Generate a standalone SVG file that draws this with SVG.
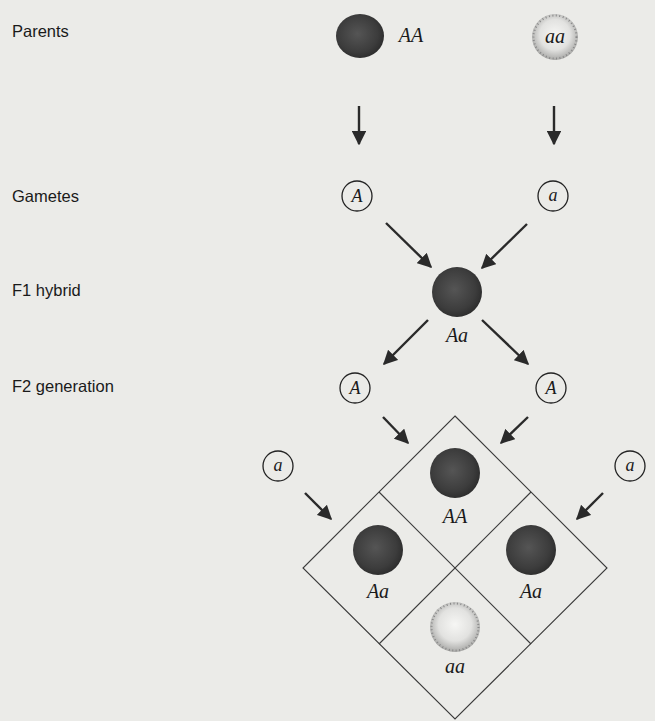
<svg xmlns="http://www.w3.org/2000/svg" width="655" height="721" viewBox="0 0 655 721">
<style>
.lbl{font-family:"Liberation Sans","DejaVu Sans",sans-serif;font-size:16.5px;fill:#1a1a1a}
.gen{font-family:"Liberation Serif","DejaVu Serif",serif;font-style:italic;font-size:20px;fill:#1a1a1a;text-anchor:middle}
.gam{font-family:"Liberation Serif","DejaVu Serif",serif;font-style:italic;font-size:18px;fill:#1a1a1a;text-anchor:middle}
.gc{fill:none;stroke:#222;stroke-width:1.3}
.dark{fill:url(#dk)}
.light{fill:url(#lt)}
.stip{fill:none;stroke:#888;stroke-width:2;stroke-dasharray:1 2.5}
.arr{stroke:#2a2a2a;stroke-width:2.4;fill:none;marker-end:url(#ah)}
.grid{fill:none;stroke:#3a3a3a;stroke-width:1.1}
</style>
<defs>
<radialGradient id="dk" cx="0.45" cy="0.45" r="0.6">
<stop offset="0" stop-color="#555"/><stop offset="0.7" stop-color="#3c3c3c"/><stop offset="1" stop-color="#2a2a2a"/>
</radialGradient>
<radialGradient id="lt" cx="0.5" cy="0.45" r="0.55">
<stop offset="0" stop-color="#f6f6f4"/><stop offset="0.6" stop-color="#e2e2e0"/><stop offset="1" stop-color="#a8a8a6"/>
</radialGradient>
<marker id="ah" viewBox="0 0 10 10" refX="9" refY="5" markerWidth="6" markerHeight="6" orient="auto" markerUnits="strokeWidth">
<path d="M0,0 L10,5 L0,10 z" fill="#2a2a2a"/>
</marker>
</defs>
<rect width="655" height="721" fill="#ebebe8"/>

<g id="labels">
<text class="lbl" x="12" y="37">Parents</text>
<text class="lbl" x="12" y="202">Gametes</text>
<text class="lbl" x="12" y="296">F1 hybrid</text>
<text class="lbl" x="12" y="392">F2 generation</text>
</g>

<g id="parentAA">
<ellipse class="dark" cx="360" cy="36" rx="24" ry="22"/>
<text class="gen" x="411" y="42">AA</text>
</g>
<g id="parentaa">
<circle class="light" cx="555" cy="37" r="23"/>
<circle class="stip" cx="555" cy="37" r="21.5"/>
<text class="gen" x="555" y="43">aa</text>
</g>

<g id="gameteA">
<circle class="gc" cx="357" cy="196" r="15"/>
<text class="gam" x="357" y="202">A</text>
</g>
<g id="gametea">
<circle class="gc" cx="553" cy="196" r="15"/>
<text class="gam" x="553" y="201">a</text>
</g>

<g id="f1">
<circle class="dark" cx="457" cy="292" r="25"/>
<text class="gen" x="457" y="342">Aa</text>
</g>

<g id="f2A1">
<circle class="gc" cx="355" cy="388" r="15"/>
<text class="gam" x="355" y="394">A</text>
</g>
<g id="f2A2">
<circle class="gc" cx="551" cy="388" r="15"/>
<text class="gam" x="551" y="394">A</text>
</g>
<g id="f2a1">
<circle class="gc" cx="278" cy="466" r="15"/>
<text class="gam" x="278" y="471">a</text>
</g>
<g id="f2a2">
<circle class="gc" cx="630" cy="466" r="15"/>
<text class="gam" x="630" y="471">a</text>
</g>

<g id="punnett">
<path class="grid" d="M455,416 L607,568 L455,719 L303,568 Z"/>
<line class="grid" x1="379" y1="492" x2="531" y2="644"/>
<line class="grid" x1="531" y1="492" x2="379" y2="644"/>
</g>
<g id="cellAA">
<circle class="dark" cx="455" cy="473" r="25"/>
<text class="gen" x="455" y="523">AA</text>
</g>
<g id="cellAa1">
<circle class="dark" cx="378" cy="550" r="25"/>
<text class="gen" x="378" y="598">Aa</text>
</g>
<g id="cellAa2">
<circle class="dark" cx="531" cy="550" r="25"/>
<text class="gen" x="531" y="598">Aa</text>
</g>
<g id="cellaa">
<circle class="light" cx="455" cy="627" r="25"/>
<circle class="stip" cx="455" cy="627" r="23.5"/>
<text class="gen" x="455" y="673">aa</text>
</g>

<g id="connectors">
<line class="arr" x1="359" y1="106" x2="359" y2="144"/>
<line class="arr" x1="554" y1="106" x2="554" y2="144"/>
<line class="arr" x1="386" y1="223" x2="431" y2="267"/>
<line class="arr" x1="527" y1="224" x2="482" y2="268"/>
<line class="arr" x1="428" y1="320" x2="384" y2="364"/>
<line class="arr" x1="482" y1="320" x2="528" y2="364"/>
<line class="arr" x1="383" y1="417" x2="408" y2="443"/>
<line class="arr" x1="528" y1="417" x2="501" y2="443"/>
<line class="arr" x1="305" y1="493" x2="331" y2="519"/>
<line class="arr" x1="603" y1="493" x2="577" y2="519"/>
</g>
</svg>
